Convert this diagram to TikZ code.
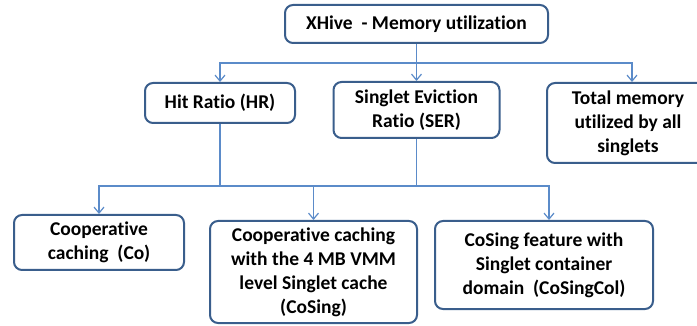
\documentclass[tikz,border=0pt]{standalone}
\usepackage{fontspec}
\setmainfont{Carlito}[Ligatures={NoCommon,NoContextual}]
\usetikzlibrary{arrows.meta}
\definecolor{boxline}{HTML}{3A5E8C}
\definecolor{linkline}{HTML}{5B8BC9}
\tikzset{
  box/.style={draw=boxline, line width=2pt, rounded corners=8pt, fill=white,
    align=center, inner sep=2pt, font=\bfseries\fontsize{19.5}{24}\selectfont, text=black},
  conn/.style={draw=linkline, line width=1.3pt,
    -{Straight Barb[length=6pt,width=10pt,line width=1.2pt]}},
  link/.style={draw=linkline, line width=1.3pt}
}
\begin{document}
\begin{tikzpicture}[x=1pt,y=-1pt]
\useasboundingbox (0,0) rectangle (697,326);
% boxes
\node[box, minimum width=263pt, minimum height=38pt] (top) at (416.5,24) {XHive~~- Memory utilization};
\node[box, minimum width=150pt, minimum height=40pt] (hr) at (220,103) {Hit Ratio (HR)};
\node[box, minimum width=166pt, minimum height=56pt] (ser) at (416.5,110) {Singlet Eviction\\Ratio (SER)};
\node[box, minimum width=162pt, minimum height=80pt] (tot) at (628,123) {Total memory\\utilized by all\\singlets};
\node[box, minimum width=170pt, minimum height=55pt] (co) at (99,242.5) {Cooperative\\caching~ (Co)};
\node[box, minimum width=207pt, minimum height=102pt] (cs) at (313.5,272) {Cooperative caching\\with the 4 MB VMM\\level Singlet cache\\(CoSing)};
\node[box, minimum width=218pt, minimum height=88pt] (csc) at (544,265) {CoSing feature with\\Singlet container\\domain~ (CoSingCol)};
% upper connectors
\coordinate (busA) at (416.5,63);
\draw[conn] (top.south) -- (ser.north);
\draw[conn] (busA) -| (hr.north);
\draw[conn] (busA) -| ([xshift=4pt]tot.north);
% lower connectors
\coordinate (busB) at (313.5,186);
\draw[link] (hr.south) -- (hr.south |- busB);
\draw[link] (ser.south) -- (ser.south |- busB);
\draw[conn] (busB) -| (co.north);
\draw[conn] (busB) -- (cs.north);
\draw[conn] (busB) -| ([xshift=5pt]csc.north);
\end{tikzpicture}
\end{document}
